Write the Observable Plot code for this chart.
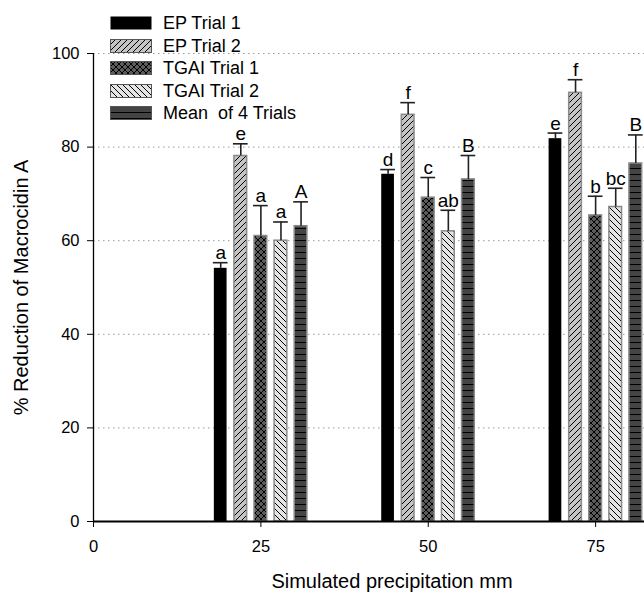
<!DOCTYPE html>
<html><head><meta charset="utf-8">
<script src="https://cdn.jsdelivr.net/npm/d3@7"></script>
<script src="https://cdn.jsdelivr.net/npm/@observablehq/plot@0.6"></script>
<style>
body{margin:0;background:#fff;font-family:"Liberation Sans",Arial,sans-serif;}
#wrap{position:relative;width:644px;height:597px;overflow:hidden;}
#legend{position:absolute;left:110px;top:12px;}
.row{display:flex;align-items:center;height:22.5px;}
.row svg{margin-right:11px;flex:none}
.row span{font-size:18px;white-space:pre;color:#000;line-height:1}
</style></head><body>
<svg width="0" height="0" style="position:absolute"><defs>
<pattern id="pEP2" patternUnits="userSpaceOnUse" width="6" height="6">
<rect width="6" height="6" fill="#c4c4c4"/>
<path d="M-1,1L1,-1M0,6L6,0M5,7L7,5" stroke="#000" stroke-width="1"/>
</pattern>
<pattern id="pTG1" patternUnits="userSpaceOnUse" width="6" height="6">
<rect width="6" height="6" fill="#5c5c5c"/>
<path d="M0,0L6,6M6,0L0,6" stroke="#000" stroke-width="1"/>
</pattern>
<pattern id="pTG2" patternUnits="userSpaceOnUse" width="6" height="6">
<rect width="6" height="6" fill="#e4e4e4"/>
<path d="M0,0L6,6M-1,5L1,7M5,-1L7,1" stroke="#000" stroke-width="1"/>
</pattern>
<pattern id="pMean" patternUnits="userSpaceOnUse" width="6" height="6">
<rect width="6" height="6" fill="#444"/>
<path d="M0,0.5H6" stroke="#000" stroke-width="1"/>
</pattern>
</defs></svg>
<div id="wrap"><div id="legend"></div></div>
<script>
// ---- data ----
const precipitation = [25, 50, 75];
const seriesNames = ["EP Trial 1", "EP Trial 2", "TGAI Trial 1", "TGAI Trial 2", "Mean  of 4 Trials"];
const epTrial1 = [54.1, 74.2, 81.8];
const epTrial1Err = [1.2, 1.0, 1.2];
const epTrial1Letters = ["a", "d", "e"];
const epTrial2 = [78.1, 86.9, 91.6];
const epTrial2Err = [2.6, 2.6, 2.8];
const epTrial2Letters = ["e", "f", "f"];
const tgaiTrial1 = [61.0, 69.2, 65.4];
const tgaiTrial1Err = [6.5, 4.3, 4.1];
const tgaiTrial1Letters = ["a", "c", "b"];
const tgaiTrial2 = [60.0, 62.0, 67.2];
const tgaiTrial2Err = [4.0, 4.5, 4.0];
const tgaiTrial2Letters = ["a", "ab", "bc"];
const meanTrials = [63.1, 73.1, 76.5];
const meanTrialsErr = [5.2, 5.1, 6.1];
const meanLetters = ["A", "B", "B"];
const xTicks = [0, 25, 50, 75];
const yTicks = [0, 20, 40, 60, 80, 100];
const xLabel = "Simulated precipitation mm";
const yLabel = "% Reduction of Macrocidin A";

// ---- styling ----
const fills = ["#000", "url(#pEP2)", "url(#pTG1)", "url(#pTG2)", "url(#pMean)"];
const offsets = [-6, -3, 0, 3, 6];
const halfW = 0.95, capHalf = 1.1;

const values = [epTrial1, epTrial2, tgaiTrial1, tgaiTrial2, meanTrials];
const errs = [epTrial1Err, epTrial2Err, tgaiTrial1Err, tgaiTrial2Err, meanTrialsErr];
const letters = [epTrial1Letters, epTrial2Letters, tgaiTrial1Letters, tgaiTrial2Letters, meanLetters];
const rows = [];
seriesNames.forEach((s, i) => precipitation.forEach((p, j) => {
  const xc = p + offsets[i];
  rows.push({series: s, idx: i, xc, x1: xc - halfW, x2: xc + halfW,
    value: values[i][j], cap: values[i][j] + errs[i][j], letter: letters[i][j]});
}));

const font = '"Liberation Sans", Arial, sans-serif';
const chart = Plot.plot({
  width: 644, height: 597,
  marginLeft: 93, marginRight: 0, marginTop: 53, marginBottom: 76,
  style: {fontFamily: font, fontSize: "16px", color: "#000", background: "#fff", overflow: "visible"},
  x: {domain: [0, 82.3]},
  y: {domain: [0, 100]},
  color: {type: "ordinal", domain: seriesNames, range: fills},
  marks: [
    Plot.gridY(yTicks.filter(d => d > 0), {stroke: "#999", strokeOpacity: 1, strokeDasharray: "1.5,3.5"}),
    Plot.rectY(rows.filter(d => d.idx === 0), {x1: "x1", x2: "x2", y1: 0, y2: "value", fill: "series"}),
    Plot.rectY(rows.filter(d => d.idx > 0), {x1: "x1", x2: "x2", y1: 0, y2: "value", fill: "series", stroke: "#8a8a8a", strokeWidth: 1.5}),
    Plot.ruleX(rows, {x: "xc", y1: "value", y2: "cap", stroke: "#222", strokeWidth: 1.6}),
    Plot.ruleY(rows, {y: "cap", x1: d => d.xc - capHalf, x2: d => d.xc + capHalf, stroke: "#222", strokeWidth: 1.6}),
    Plot.text(rows, {x: "xc", y: "cap", text: "letter", fontSize: 19, lineAnchor: "bottom", dy: -3.5, fill: "#000"}),
    Plot.ruleX([0], {stroke: "#000", strokeWidth: 1.3}),
    Plot.ruleY([0], {stroke: "#000", strokeWidth: 2.2}),
    Plot.axisY({ticks: yTicks, tickSize: 6, tickPadding: 8, label: null, fontSize: 16.5}),
    Plot.axisX({ticks: xTicks, tickSize: 6, tickPadding: 13, label: null, fontSize: 16.5}),
    Plot.text([yLabel], {frameAnchor: "left", textAnchor: "middle", rotate: -90, dx: -72, fontSize: 20, fill: "#000"}),
    Plot.text([xLabel], {frameAnchor: "bottom", textAnchor: "middle", dx: 23, dy: 66, fontSize: 20, fill: "#000"})
  ]
});
document.getElementById("wrap").prepend(chart);

// ---- legend (overlay inside plot area) ----
const legend = document.getElementById("legend");
seriesNames.forEach((s, i) => {
  const row = document.createElement("div");
  row.className = "row";
  const stroke = i === 0 ? "none" : "#555";
  row.innerHTML = `<svg width="42" height="14"><rect x="0.5" y="0.5" width="41" height="13" fill="${fills[i]}" stroke="${stroke}" stroke-width="1"/></svg><span>${s}</span>`;
  legend.appendChild(row);
});
</script>
</body></html>
